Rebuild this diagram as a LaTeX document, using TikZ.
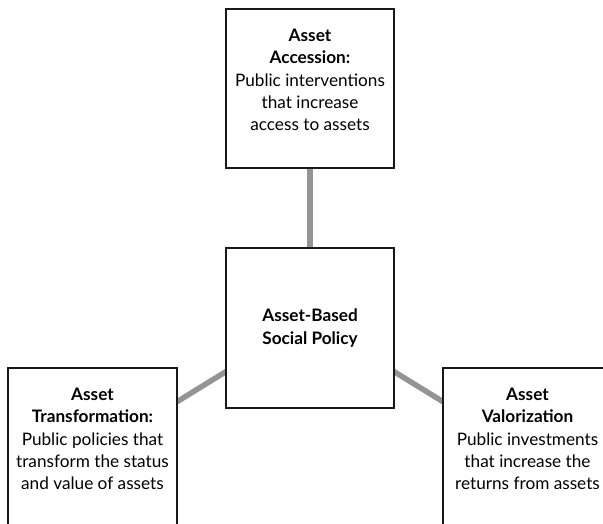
\documentclass[tikz,border=0pt]{standalone}
\usepackage{fontspec}
\setmainfont{Lato}
\usetikzlibrary{positioning}
\usetikzlibrary{backgrounds}

\begin{document}
\begin{tikzpicture}[
  x=1pt, y=1pt,
  box/.style={draw=black!90, fill=white, line width=1.4pt, minimum width=168pt, minimum height=160pt, inner sep=0pt},
  txt/.style={align=center, font=\fontsize{17.2}{22.3}\selectfont, inner sep=0pt, anchor=north},
  link/.style={draw=black!42, line width=5.5pt, shorten <=-3pt, shorten >=-3pt}
]
\useasboundingbox (0,0) rectangle (603,523);
\clip (0,0) rectangle (603,523);

% boxes
\node[box, minimum height=159pt] (accession) at (310,434.5) {};
\node[box, align=center, font=\fontsize{17.2}{22.3}\selectfont\bfseries] (hub) at (310,195) {Asset-Based\\ Social Policy};
\node[box, minimum width=169pt, minimum height=180pt] (transform) at (92.5,65) {};
\node[box, minimum width=169pt, minimum height=180pt] (valor) at (527.5,65) {};

% texts
\node[txt] (accession_text) at ([yshift=-20.5pt]accession.north) {\textbf{Asset}\\ \textbf{Accession:}\\ Public interventions\\ that increase\\ access to assets};
\node[txt] (transform_text) at ([yshift=-20.5pt]transform.north) {\textbf{Asset}\\ \textbf{Transformation:}\\ Public policies that\\ transform the status\\ and value of assets};
\node[txt] (valor_text) at ([yshift=-20.5pt]valor.north) {\textbf{Asset}\\ \textbf{Valorization}\\ Public investments\\ that increase the\\ returns from assets};

% links
\begin{scope}[on background layer]
\draw[link] (accession.south) -- (hub.north);
\draw[link] ([yshift=-34pt]transform.north east) -- ([yshift=-44pt]hub.west);
\draw[link] ([yshift=-44pt]hub.east) -- ([yshift=-34pt]valor.north west);
\end{scope}

\end{tikzpicture}
\end{document}
